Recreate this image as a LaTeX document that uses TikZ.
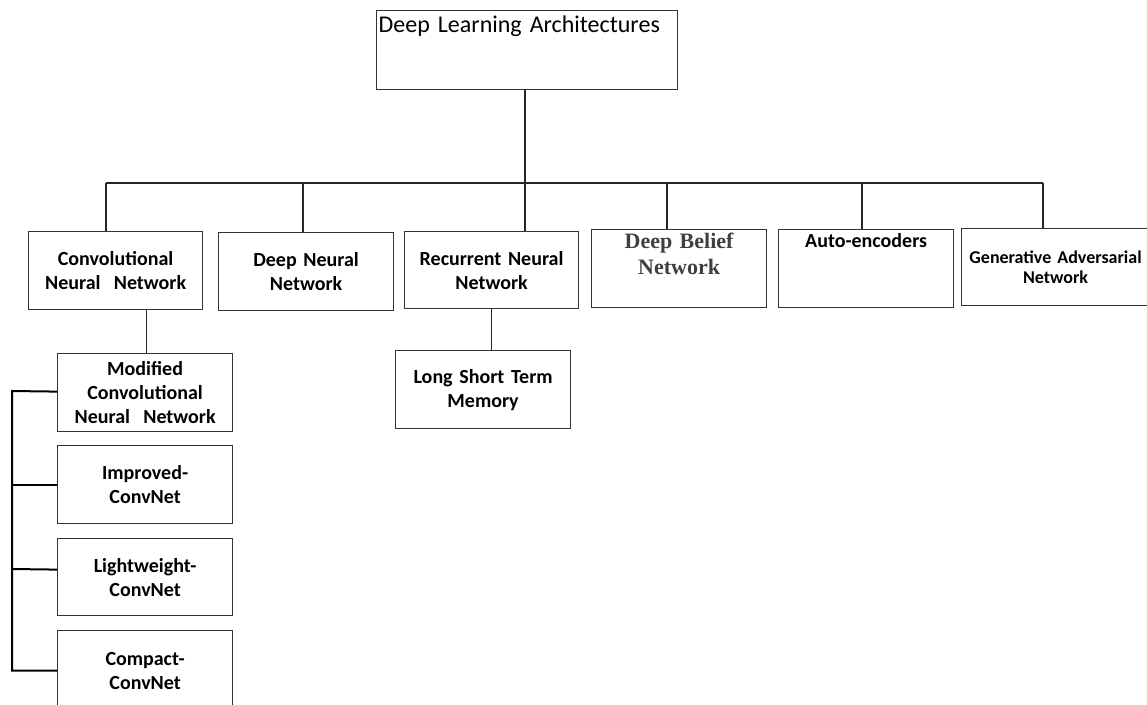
\documentclass[tikz,border=0pt]{standalone}
\usepackage{fontspec}
\setmainfont{Carlito}[WordSpace=0.8]
\newfontfamily\timesfont{Liberation Serif}

\begin{document}
\begin{tikzpicture}[x=1pt,y=-1pt,
	box/.style={draw=black!80, line width=1.2pt, fill=white, anchor=north west, align=center, inner sep=2pt, font=\bfseries\fontsize{20}{24}\selectfont},
	link/.style={draw=black!85, line width=1.2pt}]
	\useasboundingbox (0,0) rectangle (1147,704);
	\clip (0,0) rectangle (1147,704);
	% root
	\node[box, minimum width=301pt, minimum height=79pt, text width=297pt, align=left, font=\fontsize{24}{29}\selectfont, text height=20pt, text depth=55pt] (dla) at (376,10) {Deep Learning Architectures};
	% first level
	\node[box, minimum width=174pt, minimum height=78pt, text width=170pt] (cnn) at (28,231) {Convolutional\\Neural\ \ Network};
	\node[box, minimum width=175pt, minimum height=78pt, text width=171pt] (dnn) at (218,232) {Deep Neural\\Network};
	\node[box, minimum width=174pt, minimum height=77pt, text width=170pt] (rnn) at (404,231) {Recurrent Neural\\Network};
	\node[box, minimum width=175pt, minimum height=78pt, text width=171pt, text height=17pt, text depth=57pt, text=black!75, font=\timesfont\bfseries\fontsize{22}{26}\selectfont] (dbn) at (591,229) {Deep Belief\\Network};
	\node[box, minimum width=175pt, minimum height=78pt, text width=171pt, text height=16pt, text depth=58pt] (ae) at (778,229) {Auto-encoders};
	\node[box, minimum width=188pt, minimum height=77pt, text width=176pt, font=\bfseries\fontsize{18}{20}\selectfont] (gan) at (961,228) {Generative Adversarial\\Network};
	% second level
	\node[box, minimum width=175pt, minimum height=78pt, text width=171pt] (lstm) at (395,350) {Long Short Term\\Memory};
	\node[box, minimum width=175pt, minimum height=78pt, text width=171pt] (mcnn) at (57,353) {Modified\\Convolutional\\Neural\ \ Network};
	\node[box, minimum width=175pt, minimum height=78pt, text width=171pt] (icn) at (57,445) {Improved-\\ConvNet};
	\node[box, minimum width=175pt, minimum height=77pt, text width=171pt] (lcn) at (57,538) {Lightweight-\\ConvNet};
	\node[box, minimum width=175pt, minimum height=80pt, text width=171pt] (ccn) at (57,630) {Compact-\\ConvNet};
	% bus
	\coordinate (bus) at (525,183);
	\coordinate (b1) at (106,183);
	\coordinate (b2) at (303,183);
	\coordinate (b4) at (667,183);
	\coordinate (b5) at (862,183);
	\coordinate (b6) at (1043,183);
	\draw[link] (dla.south -| bus) -- (bus);
	\draw[link] (b1) -- (b6);
	\draw[link] (b1) -- (b1 |- cnn.north);
	\draw[link] (b2) -- (b2 |- dnn.north);
	\draw[link] (bus) -- (bus |- rnn.north);
	\draw[link] (b4) -- (b4 |- dbn.north);
	\draw[link] (b5) -- (b5 |- ae.north);
	\draw[link] (b6) -- (b6 |- gan.north);
	\draw[link] (rnn.south) -- (rnn.south |- lstm.north);
	\draw[link] ([xshift=1.5pt]mcnn.north |- cnn.south) -- ([xshift=1.5pt]mcnn.north);
	% cnn variants
	\coordinate (lb) at (12,391);
	\draw[line width=2pt] ([yshift=1pt]mcnn.west) -- (lb) -- (lb |- ccn.west) -- (ccn.west);
	\draw[line width=2pt] (lb |- icn.west) -- (icn.west);
	\draw[line width=2pt] (lb |- 0,569) -- ([yshift=7.5pt]lcn.west);
\end{tikzpicture}
\end{document}
